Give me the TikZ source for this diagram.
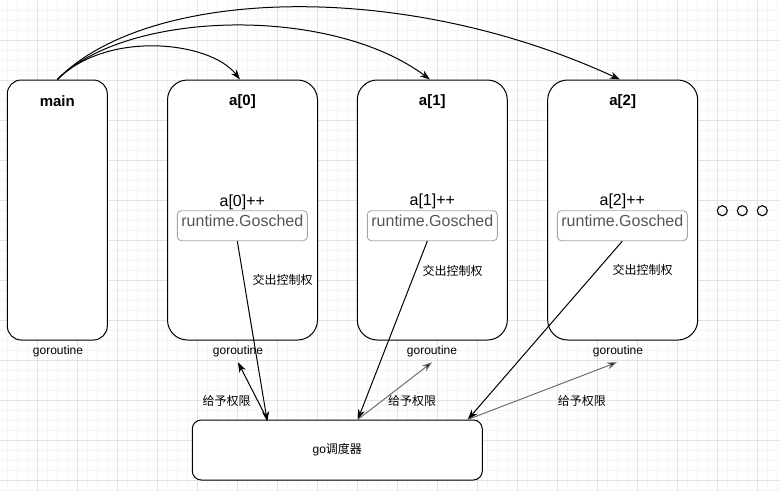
\documentclass[tikz,border=0pt]{standalone}
\usepackage{fontspec}
\setmainfont{Liberation Sans}
\newfontfamily\cjk{Noto Sans CJK SC}
\usetikzlibrary{arrows.meta,calc}
\definecolor{gmajor}{HTML}{E2E2E2}
\definecolor{gminor}{HTML}{F4F4F4}
\definecolor{rtborder}{HTML}{A6A6A6}
\definecolor{rttext}{HTML}{555555}
\definecolor{grantgray}{HTML}{6E6E6E}
\tikzset{
  bigbox/.style={draw=black, line width=1pt, fill=white, rounded corners=20pt, minimum width=150pt, minimum height=260pt, inner sep=0pt},
  mainbox/.style={bigbox, rounded corners=14pt, minimum width=100pt},
  gobox/.style={draw=black, line width=1pt, fill=white, rounded corners=9pt, minimum width=290pt, minimum height=60pt, inner sep=0pt, font=\fontsize{12}{14}\selectfont},
  title/.style={font=\bfseries\fontsize{15}{18}\selectfont, inner sep=1pt},
  incr/.style={font=\fontsize{16}{19}\selectfont, inner sep=1pt},
  rtbox/.style={draw=rtborder, line width=0.9pt, fill=white, rounded corners=4pt, minimum width=130pt, minimum height=30pt, inner sep=0pt, text height=11.6pt, text depth=10pt, text=rttext, font=\fontsize{16}{19}\selectfont},
  small/.style={font=\fontsize{12}{14}\selectfont, inner sep=2pt},
  cjklbl/.style={font=\cjk\fontsize{12}{14}\selectfont, inner sep=1pt},
  arr/.style={draw=black, line width=1pt, -{Stealth[length=10pt,width=7pt,inset=3pt]}},
  grant/.style={arr, draw=grantgray, -{Stealth[length=10pt,width=7pt,inset=3pt,fill=black]}},
  dot/.style={circle, draw=black, line width=1.1pt, minimum size=10pt, inner sep=0pt}
}
\begin{document}
\begin{tikzpicture}[x=1pt,y=-1pt]
\useasboundingbox (0,0) rectangle (780,491);
\fill[white] (0,0) rectangle (780,491);
% grid
\foreach \i in {0,...,77} { \draw[gminor, line width=0.8pt] ({7+10*\i},0) -- ({7+10*\i},491); }
\foreach \j in {1,...,49} { \draw[gminor, line width=0.8pt] (0,{10*\j}) -- (780,{10*\j}); }
\foreach \i in {0,...,19} { \draw[gmajor, line width=0.9pt] ({37+40*\i},0) -- ({37+40*\i},491); }
\foreach \j in {1,...,12} { \draw[gmajor, line width=0.9pt] (0,{40*\j}) -- (780,{40*\j}); }

% boxes
\node[mainbox] (main) at (57.3,210) {};
\node[bigbox] (a0) at (242.5,210) {};
\node[bigbox] (a1) at (432.3,210) {};
\node[bigbox] (a2) at (622.7,210) {};
\node[gobox] (go) at (337.3,450) {go{\cjk 调度器}};

% titles
\node[title] (t-main) at (57.3,101.5) {main};
\node[title] (t0) at (242.5,101.5) {a[0]};
\node[title] (t1) at (432.3,101.5) {a[1]};
\node[title] (t2) at (622.7,101.5) {a[2]};

% increments
\node[incr] (i0) at (242.3,202) {a[0]++};
\node[incr] (i1) at (432.3,201) {a[1]++};
\node[incr] (i2) at (622.3,201) {a[2]++};

% runtime.Gosched boxes
\node[rtbox] (rt0) at (242.3,225.7) {runtime.Gosched};
\node[rtbox] (rt1) at (432.3,225.7) {runtime.Gosched};
\node[rtbox] (rt2) at (622.3,225.7) {runtime.Gosched};

% goroutine labels
\node[small] (gm) at (58,351.5) {goroutine};
\node[small] (gr0) at (238,351.5) {goroutine};
\node[small] (gr1) at (432,351.5) {goroutine};
\node[small] (gr2) at (618,351.5) {goroutine};

% dots
\node[dot] (d1) at (722.3,210.7) {};
\node[dot] (d2) at (742.3,210.7) {};
\node[dot] (d3) at (762.3,210.7) {};

% labels
\node[cjklbl] (y0) at (282.7,280) {交出控制权};
\node[cjklbl] (y1) at (452.7,270.7) {交出控制权};
\node[cjklbl] (y2) at (642.7,270) {交出控制权};
\node[cjklbl] (g0l) at (226.7,400.7) {给予权限};
\node[cjklbl] (g1l) at (412.2,400.7) {给予权限};
\node[cjklbl] (g2l) at (581.8,400.7) {给予权限};

% anchor points on go box top
\coordinate (g0) at ($(go.north west)+(75.5,0)$);
\coordinate (g1) at ($(go.north west)+(166,0)$);
\coordinate (g2) at ($(go.north west)+(276,0)$);

% yield arrows
\draw[arr] ([xshift=-5pt]rt0.south) -- ([yshift=-2pt]g0);
\draw[arr] ([xshift=-5pt]rt1.south) -- (g1);
\draw[arr] (rt2.south) -- (g2);

% grant arrows
\draw[arr] (g0) -- ([yshift=-3pt]gr0.south);
\draw[grant] (g1) -- ([yshift=-3pt]gr1.south);
\draw[grant] (g2) -- ([xshift=-1pt,yshift=-3pt]gr2.south);

% top curves
\draw[arr] (main.north) .. controls (107,30) and (210,41) .. ([xshift=-2.5pt]a0.north);
\draw[arr] (main.north) .. controls (127,10) and (330,5) .. ([xshift=-2.3pt]a1.north);
\draw[arr] (main.north) .. controls (147,-12) and (400,-22) .. ([xshift=-2.7pt]a2.north);
\end{tikzpicture}
\end{document}
